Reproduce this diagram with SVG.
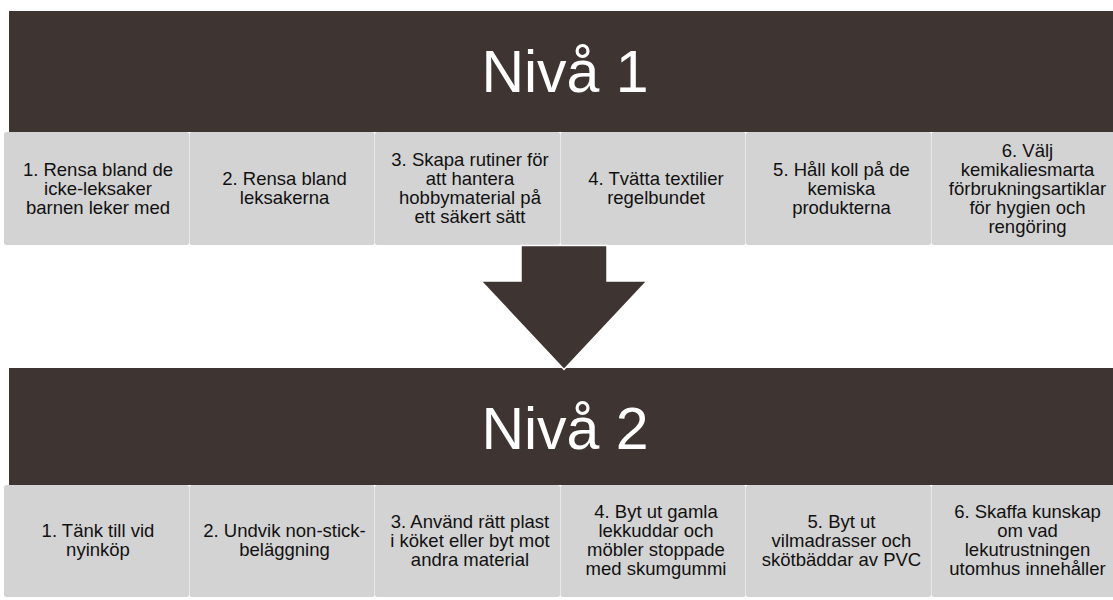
<svg xmlns="http://www.w3.org/2000/svg" width="1113" height="600" viewBox="0 0 1113 600">
<style>
.banner{fill:#3e3532}
.cell{fill:#d3d3d3}
.title{font-family:"Liberation Sans",Arial,sans-serif;font-size:59px;fill:#ffffff;text-anchor:middle}
.lbl{font-family:"Liberation Sans",Arial,sans-serif;font-size:18.5px;fill:#111111;text-anchor:middle}
.arrow{fill:#3e3532;stroke:#ffffff;stroke-width:1.5;stroke-linejoin:miter}
</style>
<rect width="1113" height="600" fill="#ffffff"/>
<g id="level1">
<rect class="banner" x="9" y="11" width="1110" height="121"/>
<text class="title" x="565" y="92">Nivå 1</text>
</g>
<g id="l1c1"><rect class="cell" x="4" y="132" width="185" height="113" rx="2.5"/>
<text class="lbl"><tspan x="98" y="175.5">1. Rensa bland de</tspan><tspan x="98" y="194.5">icke-leksaker</tspan><tspan x="98" y="213.5">barnen leker med</tspan></text></g>
<g id="l1c2"><rect class="cell" x="189.5" y="132" width="185" height="113" rx="2.5"/>
<text class="lbl"><tspan x="284.5" y="185">2. Rensa bland</tspan><tspan x="284.5" y="204">leksakerna</tspan></text></g>
<g id="l1c3"><rect class="cell" x="375" y="132" width="185" height="113" rx="2.5"/>
<text class="lbl"><tspan x="470" y="166">3. Skapa rutiner för</tspan><tspan x="470" y="185">att hantera</tspan><tspan x="470" y="204">hobbymaterial på</tspan><tspan x="470" y="223">ett säkert sätt</tspan></text></g>
<g id="l1c4"><rect class="cell" x="560.5" y="132" width="185" height="113" rx="2.5"/>
<text class="lbl"><tspan x="656" y="185">4. Tvätta textilier</tspan><tspan x="656" y="204">regelbundet</tspan></text></g>
<g id="l1c5"><rect class="cell" x="746" y="132" width="185" height="113" rx="2.5"/>
<text class="lbl"><tspan x="841.5" y="175.5">5. Håll koll på de</tspan><tspan x="841.5" y="194.5">kemiska</tspan><tspan x="841.5" y="213.5">produkterna</tspan></text></g>
<g id="l1c6"><rect class="cell" x="931.5" y="132" width="185" height="113" rx="2.5"/>
<text class="lbl"><tspan x="1027.5" y="156.5">6. Välj</tspan><tspan x="1027.5" y="175.5">kemikaliesmarta</tspan><tspan x="1027.5" y="194.5">förbrukningsartiklar</tspan><tspan x="1027.5" y="213.5">för hygien och</tspan><tspan x="1027.5" y="232.5">rengöring</tspan></text></g>

<g id="level2">
<rect class="banner" x="9" y="368" width="1110" height="117"/>
<text class="title" x="565" y="449">Nivå 2</text>
</g>
<g id="l2c1"><rect class="cell" x="4" y="485" width="185" height="112" rx="2.5"/>
<text class="lbl"><tspan x="98" y="537">1. Tänk till vid</tspan><tspan x="98" y="556">nyinköp</tspan></text></g>
<g id="l2c2"><rect class="cell" x="189.5" y="485" width="185" height="112" rx="2.5"/>
<text class="lbl"><tspan x="284.5" y="537">2. Undvik non-stick-</tspan><tspan x="284.5" y="556">beläggning</tspan></text></g>
<g id="l2c3"><rect class="cell" x="375" y="485" width="185" height="112" rx="2.5"/>
<text class="lbl"><tspan x="470" y="527.5">3. Använd rätt plast</tspan><tspan x="470" y="546.5">i köket eller byt mot</tspan><tspan x="470" y="565.5">andra material</tspan></text></g>
<g id="l2c4"><rect class="cell" x="560.5" y="485" width="185" height="112" rx="2.5"/>
<text class="lbl"><tspan x="656" y="518">4. Byt ut gamla</tspan><tspan x="656" y="537">lekkuddar och</tspan><tspan x="656" y="556">möbler stoppade</tspan><tspan x="656" y="575">med skumgummi</tspan></text></g>
<g id="l2c5"><rect class="cell" x="746" y="485" width="185" height="112" rx="2.5"/>
<text class="lbl"><tspan x="841.5" y="527.5">5. Byt ut</tspan><tspan x="841.5" y="546.5">vilmadrasser och</tspan><tspan x="841.5" y="565.5">skötbäddar av PVC</tspan></text></g>
<g id="l2c6"><rect class="cell" x="931.5" y="485" width="185" height="112" rx="2.5"/>
<text class="lbl"><tspan x="1027.5" y="518">6. Skaffa kunskap</tspan><tspan x="1027.5" y="537">om vad</tspan><tspan x="1027.5" y="556">lekutrustningen</tspan><tspan x="1027.5" y="575">utomhus innehåller</tspan></text></g>

<g id="connectors">
<path class="arrow" d="M521,245.5 L607,245.5 L607,281 L647,281 L564,369.5 L481,281 L521,281 Z"/>
</g>
</svg>
